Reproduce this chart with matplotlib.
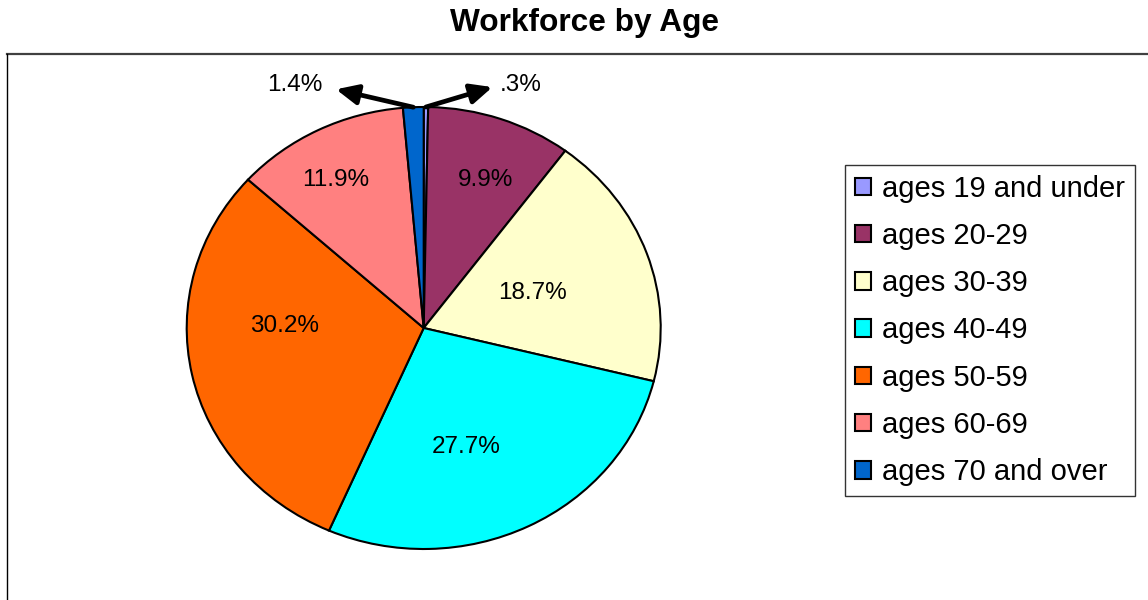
import numpy as np
import matplotlib as mpl
import matplotlib.pyplot as plt
from matplotlib.lines import Line2D

# Data
age_groups = ['ages 19 and under', 'ages 20-29', 'ages 30-39', 'ages 40-49',
              'ages 50-59', 'ages 60-69', 'ages 70 and over']
shares = [0.3, 9.9, 18.7, 27.7, 30.2, 11.9, 1.4]
pct_labels = ['.3%', '9.9%', '18.7%', '27.7%', '30.2%', '11.9%', '1.4%']
slice_colors = ['#9999FF', '#993366', '#FFFFCC', '#00FFFF',
                '#FF6600', '#FF8080', '#0066CC']

# label spots inside the pie (pie data coords), None = label outside with arrow
label_xy = [None, (0.26, 0.67), (0.46, 0.16), (0.18, -0.54),
            (-0.585, 0.01), (-0.37, 0.67), None]
# outside labels: (text xy, arrow head xy)
outside_xy = {0: ((0.41, 1.10), (0.29, 1.09)),
              6: ((-0.545, 1.10), (-0.37, 1.08))}

mpl.rcParams['font.family'] = 'Liberation Sans'

W, H = 1148, 600
fig = plt.figure(figsize=(W/100, H/100), dpi=100)
fig.patch.set_facecolor('white')

# chart area frame (only top and left edges are visible)
top = 1 - 53.5/H
fig.add_artist(Line2D([6.5/W, 1], [top, top], color='#404040', lw=1.6,
                      transform=fig.transFigure))
fig.add_artist(Line2D([6.5/W, 6.5/W], [0, top], color='black', lw=1.0,
                      transform=fig.transFigure))

fig.text(584/W, 1 - 23/H, 'Workforce by Age', ha='center', va='center',
         fontsize=22.8, fontweight='bold')

# pie is slightly wider than tall, so the axes is not square
cx, cy, rx, ry = 423.7, 328, 237, 221
ax = fig.add_axes([(cx - rx)/W, (H - cy - ry)/H, 2*rx/W, 2*ry/H])
wedges, _ = ax.pie(shares, colors=slice_colors, startangle=90,
                   counterclock=False,
                   wedgeprops={'edgecolor': 'black', 'linewidth': 1.5})
ax.set_aspect('auto')
ax.set_xlim(-1, 1)
ax.set_ylim(-1, 1)
ax.axis('off')

for i, w in enumerate(wedges):
    if label_xy[i] is not None:
        ax.text(label_xy[i][0], label_xy[i][1], pct_labels[i],
                ha='center', va='center', fontsize=17.5)
    else:
        mid = np.deg2rad((w.theta1 + w.theta2)/2)
        tail = (np.cos(mid), np.sin(mid))
        txt, head = outside_xy[i]
        ax.annotate('', xy=head, xytext=tail,
                    arrowprops=dict(arrowstyle='-|>,head_length=0.65,head_width=0.3',
                                    mutation_scale=20, color='black', lw=3.4,
                                    shrinkA=0, shrinkB=0),
                    annotation_clip=False)
        ax.text(txt[0], txt[1], pct_labels[i], ha='center', va='center',
                fontsize=17.5, clip_on=False)

leg = fig.legend(wedges, age_groups, loc='upper left',
                 bbox_to_anchor=(845/W, 1 - 165/H), borderaxespad=0,
                 fontsize=21, frameon=True, fancybox=False,
                 edgecolor='black', handlelength=0.55, handleheight=0.55,
                 handletextpad=0.4, labelspacing=0.66, borderpad=0.33)
leg.get_frame().set_linewidth(1.0)
for h in leg.legend_handles:
    h.set_linewidth(1.5)

fig.savefig('out.png', dpi=100)
